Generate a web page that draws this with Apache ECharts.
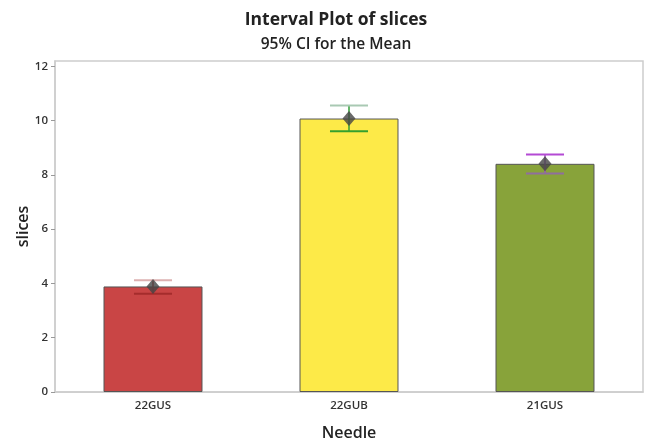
<!DOCTYPE html>
<html>
<head>
<meta charset="utf-8">
<script src="https://cdn.jsdelivr.net/npm/echarts@6/dist/echarts.min.js"></script>
<style>html,body{margin:0;padding:0;background:#fff}#c{width:645px;height:439px}</style>
</head>
<body>
<div id="c"></div>
<script>
var categories = ['22GUS', '22GUB', '21GUS'];
var means = [3.89, 10.08, 8.41];
var ciLower = [3.62, 9.61, 8.05];
var ciUpper = [4.12, 10.56, 8.75];
var barColors = ['#C94545', '#FDEA48', '#88A33A'];
var ciUpperColors = ['#DDB0B0', '#A9C9B3', '#B44AD4'];
var ciStemColors = ['#B53A3A', '#2F9E35', '#9A58B8'];
var ciLowerColors = ['#A52C2C', '#34A02E', '#8F6E9E'];
var yTicks = [0, 2, 4, 6, 8, 10, 12];

var font = '"Open Sans", "Noto Sans", sans-serif';
var chart = echarts.init(document.getElementById('c'), null, {renderer: 'canvas'});

var ciData = categories.map(function (c, i) { return [i, ciLower[i], ciUpper[i]]; });

chart.setOption({
  animation: false,
  title: [{
    text: 'Interval Plot of slices',
    left: 331, top: 6, textAlign: 'center',
    textStyle: {fontFamily: font, fontSize: 17.5, fontWeight: 'bold', color: '#222'}
  }, {
    text: '95% CI for the Mean',
    left: 331, top: 32, textAlign: 'center',
    textStyle: {fontFamily: font, fontSize: 15.5, fontWeight: 600, color: '#222'}
  }],
  grid: {left: 55, right: 2, top: 61, bottom: 47, outerBoundsMode: 'none', containLabel: false,
    show: true, borderColor: '#CDCDCD', borderWidth: 1.5, backgroundColor: '#fff'},
  xAxis: {
    type: 'category',
    data: categories,
    name: 'Needle',
    nameLocation: 'middle',
    nameGap: 33,
    nameTextStyle: {fontFamily: font, fontSize: 16, fontWeight: 600, color: '#222'},
    axisLine: {lineStyle: {color: '#CDCDCD', width: 1.5}},
    axisTick: {alignWithLabel: true, length: 4, lineStyle: {color: '#999'}},
    axisLabel: {fontFamily: font, fontSize: 11.5, fontWeight: 600, color: '#333', margin: 8}
  },
  yAxis: {
    type: 'value',
    min: 0, max: 12.2, interval: 2,
    name: 'slices',
    nameLocation: 'middle',
    nameGap: 24,
    nameMoveOverlap: false,
    nameTextStyle: {fontFamily: font, fontSize: 16, fontWeight: 600, color: '#222'},
    axisLine: {show: true, lineStyle: {color: '#CDCDCD', width: 1.5}},
    axisTick: {show: true, length: 4, lineStyle: {color: '#999'}, customValues: yTicks},
    axisLabel: {fontFamily: font, fontSize: 11.5, fontWeight: 600, color: '#333', margin: 7, customValues: yTicks},
    splitLine: {show: false}
  },
  series: [{
    type: 'bar',
    data: means.map(function (v, i) {
      return {value: v, itemStyle: {color: barColors[i]}};
    }),
    barWidth: '50.5%',
    itemStyle: {borderColor: '#555', borderWidth: 1},
    z: 2
  }, {
    type: 'custom',
    data: ciData,
    z: 3,
    renderItem: function (params, api) {
      var i = api.value(0);
      var lo = api.coord([i, api.value(1)]);
      var hi = api.coord([i, api.value(2)]);
      var half = api.size([1, 0])[0] * 0.097;
      var x = lo[0];
      return {
        type: 'group',
        children: [{
          type: 'line',
          shape: {x1: x, y1: hi[1], x2: x, y2: lo[1]},
          style: {stroke: ciStemColors[i], lineWidth: 1.5}
        }, {
          type: 'line',
          shape: {x1: x - half, y1: hi[1], x2: x + half, y2: hi[1]},
          style: {stroke: ciUpperColors[i], lineWidth: 2}
        }, {
          type: 'line',
          shape: {x1: x - half, y1: lo[1], x2: x + half, y2: lo[1]},
          style: {stroke: ciLowerColors[i], lineWidth: 2}
        }]
      };
    }
  }, {
    type: 'scatter',
    data: means.map(function (v, i) { return [i, v]; }),
    symbol: 'diamond',
    symbolSize: [13, 15],
    itemStyle: {color: '#454545'},
    z: 4
  }]
});
</script>
</body>
</html>
